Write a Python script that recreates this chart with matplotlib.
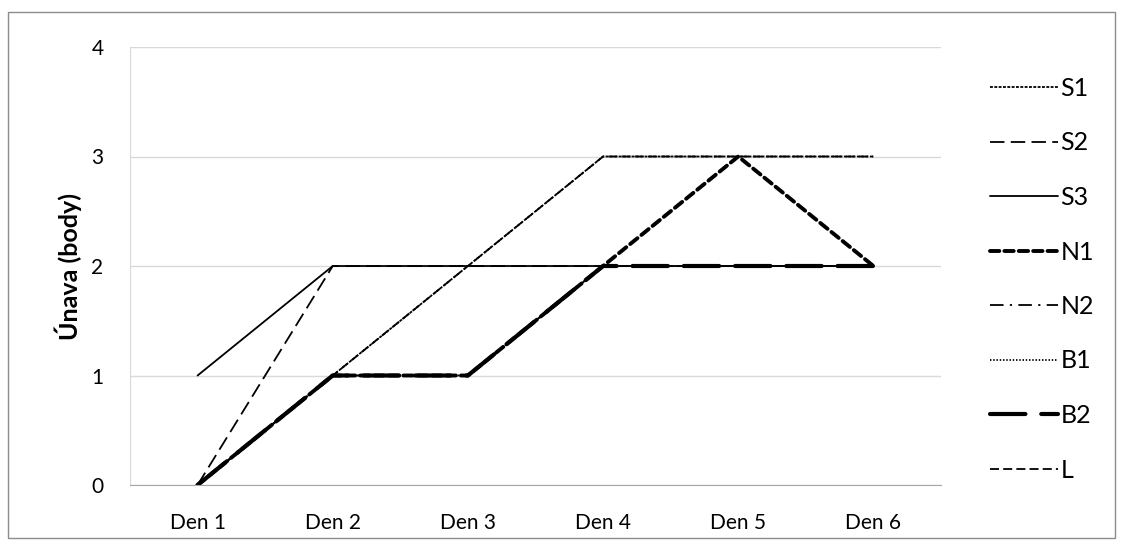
import matplotlib
matplotlib.use('Agg')
import matplotlib.pyplot as plt
from matplotlib.patches import Rectangle

plt.rcParams['font.family'] = ['Lato', 'DejaVu Sans']

days = ['Den 1', 'Den 2', 'Den 3', 'Den 4', 'Den 5', 'Den 6']

s1 = [0, 1, 2, 3, 3, 3]
s2 = [0, 2, 2, 2, 2, 2]
s3 = [1, 2, 2, 2, 2, 2]
n1 = [0, 1, 1, 2, 3, 2]
n2 = [0, 1, 1, 2, 2, 2]
b1 = [0, 1, 1, 2, 2, 2]
b2 = [0, 1, 1, 2, 2, 2]
l  = [0, 1, 2, 3, 3, 3]

W, H = 1123, 544
fig = plt.figure(figsize=(W/100, H/100), dpi=100)
ax = fig.add_axes([130/W, 1-485/H, (941-130)/W, (485-47)/H])

x = range(len(days))
# series in drawing order: label, values, width, dash pattern, cap
series = [
    ('S1', s1, 1.3, (0, (1.6, 0.8)), 'butt'),
    ('S2', s2, 1.3, (0, (8.0, 3.5)), 'butt'),
    ('S3', s3, 1.3, '-', 'butt'),
    ('N1', n1, 2.8, (0, (2.4, 1.3)), 'round'),
    ('N2', n2, 1.3, (0, (7.5, 3.5, 1.2, 3.5)), 'butt'),
    ('B1', b1, 1.3, (0, (0.8, 1.0)), 'butt'),
    ('B2', b2, 3.0, (0, (8.5, 3.8)), 'round'),
    ('L',  l,  1.3, (0, (5.0, 2.3)), 'butt'),
]
for lab, vals, lw, ls, cap in series:
    ax.plot(x, vals, color='black', lw=lw, linestyle=ls,
            dash_capstyle=cap, solid_capstyle='round', label=lab)

ax.set_xlim(-0.5, 5.5)
ax.set_ylim(0, 4)
ax.set_yticks([0, 1, 2, 3, 4])
ax.set_xticks(list(x))
ax.set_xticklabels(days)
ax.grid(axis='y', color='#d9d9d9', lw=1)
ax.set_axisbelow(True)
for side in ['top', 'right']:
    ax.spines[side].set_visible(False)
ax.spines['left'].set_color('#d9d9d9')
ax.spines['bottom'].set_color('#a6a6a6')
ax.tick_params(length=0, labelsize=15)
ax.tick_params(axis='x', pad=20)
ax.tick_params(axis='y', pad=19)
ax.set_ylabel('Únava (body)', fontsize=18, fontweight='bold', labelpad=7)

leg = ax.legend(loc='upper left', bbox_to_anchor=(990/W, 1-77/H),
                bbox_transform=fig.transFigure, frameon=False, fontsize=18,
                handlelength=2.7, handletextpad=0.12, labelspacing=1.26,
                borderpad=0, borderaxespad=0)

fig.patches.append(Rectangle((8/W, 1-538/H), (1115-8)/W, (538-12)/H,
                             transform=fig.transFigure, fill=False,
                             edgecolor='#8c8c8c', lw=1))

fig.savefig('out.png', dpi=100)
